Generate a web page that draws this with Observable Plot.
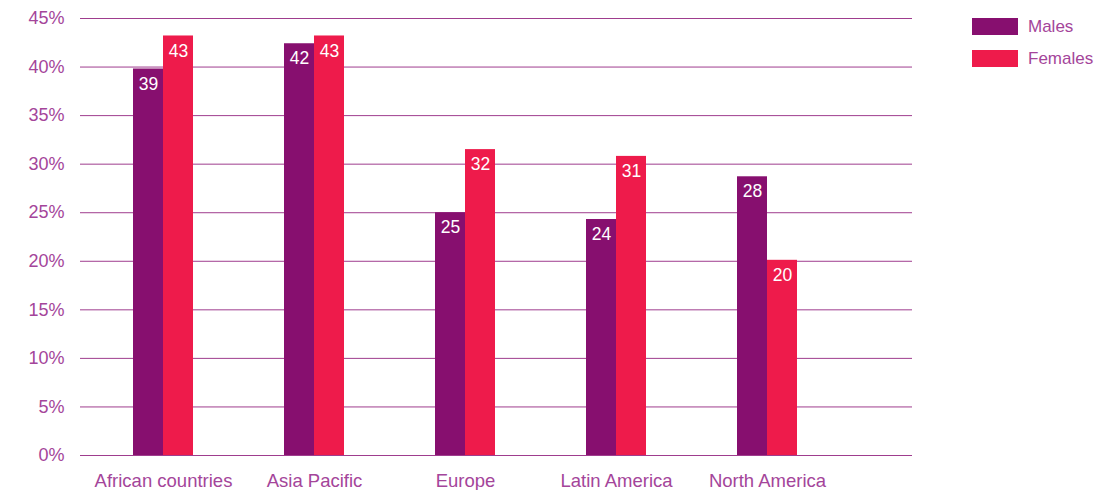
<!DOCTYPE html>
<html>
<head>
<meta charset="utf-8">
<script src="https://cdn.jsdelivr.net/npm/d3@7"></script>
<script src="https://cdn.jsdelivr.net/npm/@observablehq/plot@0.6"></script>
<style>
  html, body { margin: 0; padding: 0; background: #fff; }
  #wrap { position: relative; width: 1098px; height: 490px; font-family: "Liberation Sans", Arial, sans-serif; }
  #legend { position: absolute; left: 972px; top: 18px; }
  .item { display: flex; align-items: center; height: 17px; margin-bottom: 15px; color: #a4459a; font-size: 17px; }
  .sw { width: 46px; height: 17px; margin-right: 10px; }
</style>
</head>
<body>
<div id="wrap"><div id="legend"></div></div>
<script>
const regions = ["African countries", "Asia Pacific", "Europe", "Latin America", "North America"];
const males = [39.8, 42.4, 25.0, 24.3, 28.7];
const females = [43.2, 43.2, 31.5, 30.8, 20.1];
const maleLabels = [39, 42, 25, 24, 28];
const femaleLabels = [43, 43, 32, 31, 20];
const yTicks = [0, 5, 10, 15, 20, 25, 30, 35, 40, 45];
const seriesNames = ["Males", "Females"];
const seriesColors = ["#870f6f", "#ee1b4b"];

const maleData = regions.map((r, i) => ({region: r, value: males[i], label: maleLabels[i]}));
const femaleData = regions.map((r, i) => ({region: r, value: females[i], label: femaleLabels[i]}));

const chart = Plot.plot({
  width: 1098,
  height: 490,
  marginLeft: 80,
  marginRight: 186,
  marginTop: 18,
  marginBottom: 35,
  style: {fontFamily: "Liberation Sans, Arial, sans-serif", fontSize: "17px", color: "#a4459a", background: "transparent"},
  x: {domain: regions, paddingInner: 0.6, paddingOuter: 0.3, insetLeft: 7, insetRight: 68, label: null},
  y: {domain: [0, 45], label: null},
  marks: [
    Plot.ruleY(yTicks, {stroke: "#9f3d8e", strokeWidth: 1}),
    Plot.barY(maleData, {x: "region", y: "value", fill: seriesColors[0], insetRight: 30}),
    Plot.barY(femaleData, {x: "region", y: "value", fill: seriesColors[1], insetLeft: 30}),
    Plot.text(maleData, {x: "region", y: "value", text: "label", dx: -15, dy: 15, fill: "white", fontSize: 17.5}),
    Plot.text(femaleData, {x: "region", y: "value", text: "label", dx: 15, dy: 15, fill: "white", fontSize: 17.5}),
    Plot.axisY({ticks: yTicks, tickFormat: d => d + "%", tickSize: 0, tickPadding: 16, fill: "#a4459a", fontSize: 18, label: null}),
    Plot.axisX({tickSize: 0, tickPadding: 18, fill: "#a4459a", fontSize: 18.5, label: null})
  ]
});
document.getElementById("wrap").prepend(chart);

const legend = document.getElementById("legend");
seriesNames.forEach((n, i) => {
  const it = document.createElement("div");
  it.className = "item";
  const sw = document.createElement("div");
  sw.className = "sw";
  sw.style.background = seriesColors[i];
  const t = document.createElement("span");
  t.textContent = n;
  it.appendChild(sw);
  it.appendChild(t);
  legend.appendChild(it);
});
</script>
</body>
</html>
